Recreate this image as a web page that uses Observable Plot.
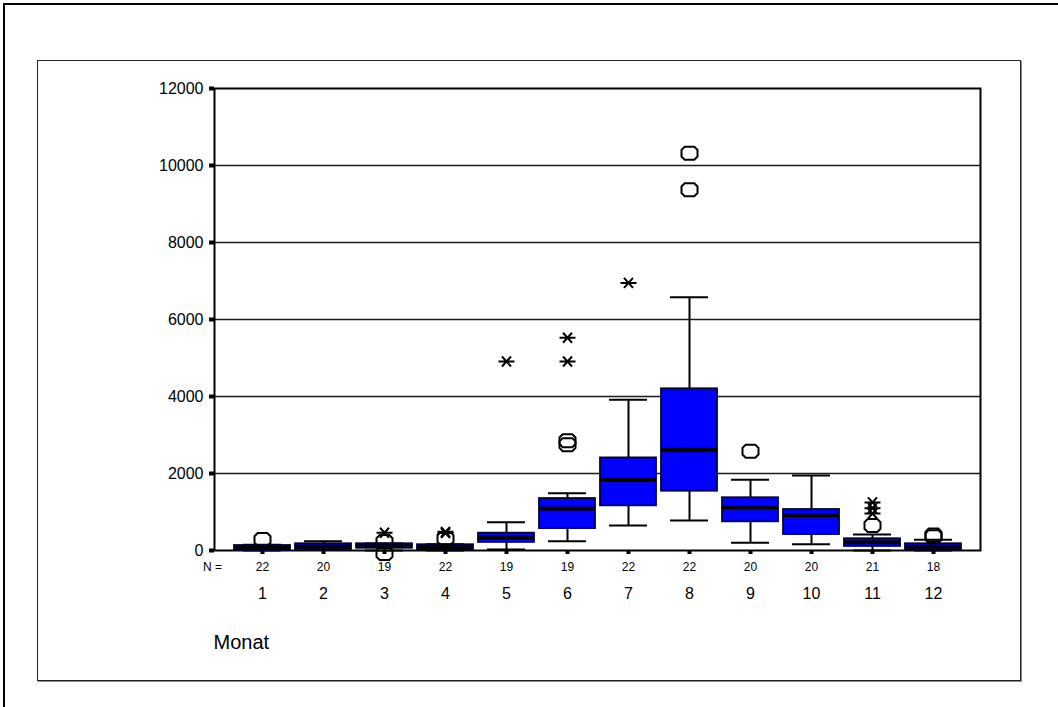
<!DOCTYPE html>
<html>
<head>
<meta charset="utf-8">
<script src="https://cdn.jsdelivr.net/npm/d3@7"></script>
<script src="https://cdn.jsdelivr.net/npm/@observablehq/plot@0.6"></script>
<style>
  html, body { margin: 0; padding: 0; background: #fff; }
  #wrap { position: relative; width: 1058px; height: 707px; overflow: hidden; }
  .outer { position: absolute; left: 3px; top: 3px; width: 1100px; height: 800px; border-left: 2px solid #000; border-top: 2px solid #000; }
  .inner { position: absolute; left: 37px; top: 60px; width: 982px; height: 619px; border: 1px solid #222; box-shadow: 1px 1px 0 #888; }
  #chart { position: absolute; left: 0; top: 0; }
</style>
</head>
<body>
<div id="wrap">
  <div class="outer"></div>
  <div class="inner"></div>
  <div id="chart"></div>
</div>
<script>
// ---- data ----
const months = [1, 2, 3, 4, 5, 6, 7, 8, 9, 10, 11, 12];
const counts = [22, 20, 19, 22, 19, 19, 22, 22, 20, 20, 21, 18];
const whiskerLow  = [0, 20, 0, 0, 25, 240, 650, 780, 200, 165, 0, 0];
const q1          = [0, 25, 60, 18, 210, 570, 1160, 1540, 745, 415, 105, 18];
const medians     = [70, 105, 110, 85, 330, 1090, 1835, 2615, 1125, 925, 215, 100];
const q3          = [130, 175, 175, 150, 450, 1350, 2405, 4200, 1370, 1065, 305, 175];
const whiskerHigh = [150, 240, 180, 160, 735, 1490, 3915, 6580, 1835, 1950, 415, 280];
// outliers (circles)
const outlierMonth = [1, 3, 3, 4, 6, 6, 8, 8, 9, 11, 12, 12];
const outlierValue = [285, 234, -80, 310, 2850, 2750, 10320, 9370, 2580, 650, 400, 360];
// extreme values (asterisks)
const extremeMonth = [3, 4, 4, 5, 6, 6, 7, 11, 11, 11];
const extremeValue = [460, 485, 455, 4910, 5525, 4910, 6950, 1250, 1100, 960];
const yTicks = [0, 2000, 4000, 6000, 8000, 10000, 12000];
const gridValues = [2000, 4000, 6000, 8000, 10000];

const boxes = months.map((m, i) => ({
  month: m, lo: whiskerLow[i], q1: q1[i], med: medians[i], q3: q3[i], hi: whiskerHigh[i]
}));
const outliers = outlierMonth.map((m, i) => ({month: m, value: outlierValue[i]}));
const extremes = extremeMonth.map((m, i) => ({month: m, value: extremeValue[i]}));

const ringSymbol = {
  draw(ctx) {
    const w = 8, h = 6.5, c = 3.2;
    ctx.moveTo(-w + c, -h); ctx.lineTo(w - c, -h); ctx.lineTo(w, -h + c);
    ctx.lineTo(w, h - c); ctx.lineTo(w - c, h); ctx.lineTo(-w + c, h);
    ctx.lineTo(-w, h - c); ctx.lineTo(-w, -h + c); ctx.closePath();
  }
};
const starSymbol = {
  draw(ctx) {
    ctx.moveTo(-8, 0); ctx.lineTo(8, 0);
    ctx.moveTo(-4.5, -5); ctx.lineTo(4.5, 5);
    ctx.moveTo(-4.5, 5); ctx.lineTo(4.5, -5);
  }
};

const font = "'Liberation Sans', Arial, sans-serif";

const chart = Plot.plot({
  width: 1058,
  height: 707,
  marginLeft: 214,
  marginRight: 78,
  marginTop: 88,
  marginBottom: 157,
  style: {fontFamily: font, background: "transparent", color: "#000"},
  x: {type: "band", domain: months, paddingInner: 0.083, paddingOuter: 0.31, label: null},
  y: {domain: [0, 12000], label: null},
  marks: [
    Plot.ruleY(gridValues, {stroke: "#1a1a1a", strokeWidth: 1.5}),
    Plot.frame({stroke: "#000", strokeWidth: 2}),
    Plot.axisY(yTicks, {tickSize: 5, strokeWidth: 4, tickPadding: 6, fontSize: 16, tickFormat: d => String(d), label: null}),
    Plot.axisX({tickSize: 4, strokeWidth: 4, tickFormat: () => "", label: null}),
    Plot.axisX({tickSize: 0, tickPadding: 12, fontSize: 12, tickFormat: (d) => String(counts[months.indexOf(d)]), label: null}),
    Plot.axisX({tickSize: 0, tickPadding: 37, fontSize: 16, tickFormat: d => String(d), label: null}),
    Plot.text(["N ="], {frameAnchor: "bottom-left", dx: -2, dy: 20, fontSize: 12, textAnchor: "middle"}),
    Plot.text(["Monat"], {frameAnchor: "bottom-left", dx: -1, dy: 98, fontSize: 20, textAnchor: "start"}),
    // whiskers
    Plot.ruleX(boxes, {x: "month", y1: "lo", y2: "q1", stroke: "#000", strokeWidth: 2}),
    Plot.ruleX(boxes, {x: "month", y1: "q3", y2: "hi", stroke: "#000", strokeWidth: 2}),
    Plot.tickY(boxes, {x: "month", y: "hi", stroke: "#000", strokeWidth: 2, inset: 9}),
    Plot.tickY(boxes, {x: "month", y: "lo", stroke: "#000", strokeWidth: 2, inset: 9}),
    // boxes
    Plot.barY(boxes, {x: "month", y1: "q1", y2: "q3", fill: "#0000ff", stroke: "#000040", strokeWidth: 1.8}),
    Plot.tickY(boxes, {x: "month", y: "med", stroke: "#000", strokeWidth: 4}),
    // outliers
    Plot.dot(outliers, {x: "month", y: "value", symbol: ringSymbol, fill: "none", stroke: "#000", strokeWidth: 2}),
    Plot.dot(extremes, {x: "month", y: "value", symbol: starSymbol, fill: "none", stroke: "#000", strokeWidth: 2})
  ]
});
document.getElementById("chart").appendChild(chart);
</script>
</body>
</html>
